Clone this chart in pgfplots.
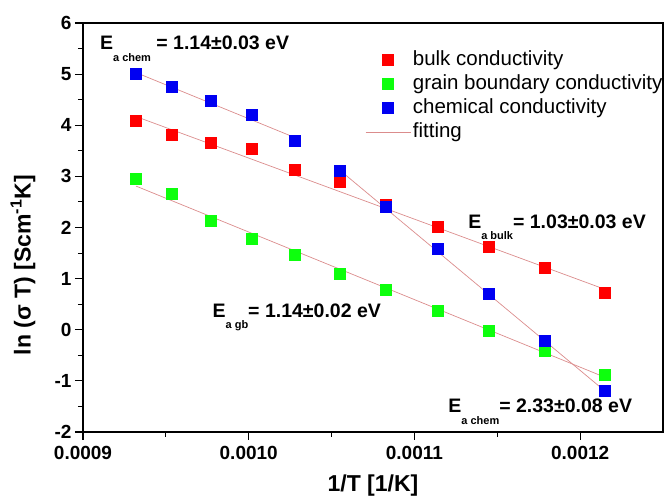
\documentclass[border=0pt]{standalone}
\usepackage{pgfplots}
\pgfplotsset{compat=1.18}
\usepackage{fontspec}
\setmainfont{Liberation Sans}
\definecolor{fitcol}{rgb}{0.86,0.55,0.55}
\definecolor{mred}{rgb}{1,0,0}
\definecolor{mgreen}{rgb}{0.05,1,0.05}
\definecolor{mblue}{rgb}{0,0,0.95}
\newcommand{\Ea}[1]{E\raisebox{-0.6em}{\fontsize{11}{11}\selectfont #1}}
\begin{document}
\begin{tikzpicture}
\begin{axis}[
  name=ax,
  scale only axis,
  width=580pt, height=409pt,
  xmin=0.0009, xmax=0.00125,
  ymin=-2, ymax=6,
  scaled x ticks=false,
  xtick={0.0009,0.0010,0.0011,0.0012},
  xticklabels={0.0009,0.0010,0.0011,0.0012},
  ytick={-2,-1,0,1,2,3,4,5,6},
  yticklabels={-2,-1,0,1,2,3,4,5,6},
  minor x tick num=1,
  minor y tick num=1,
  xtick pos=left, ytick pos=left,
  tick align=outside,
  major tick length=8pt,
  minor tick length=5pt,
  tick style={line width=1.1pt, black},
  axis line style={line width=1.3pt, black},
  tick label style={font=\bfseries\fontsize{19}{19}\selectfont},
  xticklabel shift=3pt,
  xlabel={\bfseries 1/T [1/K]},
  ylabel={\bfseries ln (σ T) [Scm\textsuperscript{-1}K]},
  xlabel style={font=\fontsize{23}{23}\selectfont, yshift=-8pt},
  ylabel style={font=\fontsize{23}{23}\selectfont, at={(axis description cs:-0.076,0.408)}, anchor=south},
  legend style={at={(rel axis cs:0.481,0.936)}, anchor=north west, draw=none, fill=none,
    font=\fontsize{20.5}{20.5}\selectfont, row sep=6pt, column sep=2pt,
    nodes={inner sep=0pt, text height=14pt, text depth=4pt}},
  legend cell align=left,
  legend image code/.code={\draw[mark repeat=2,mark phase=2,#1] plot coordinates {(0pt,0pt) (22.5pt,0pt) (45pt,0pt)};},
  clip=false,
]
% fitting lines
\addplot[fitcol, line width=0.7pt, forget plot] coordinates {(0.000932,5.03) (0.001027,3.77)};
\addplot[fitcol, line width=0.7pt, forget plot] coordinates {(0.001055,3.12) (0.001215,-1.20)};
\addplot[fitcol, line width=0.7pt, forget plot] coordinates {(0.000932,4.17) (0.001215,0.79)};
\addplot[fitcol, line width=0.7pt, forget plot] coordinates {(0.000932,2.81) (0.001215,-0.93)};
% data
\addplot[only marks, mark=square*, mark size=5.5pt, mark options={draw=mred, fill=mred, line width=0pt}] coordinates {
(0.000932,4.09) (0.000954,3.80) (0.000977,3.65) (0.001002,3.54) (0.001028,3.12) (0.001055,2.89)
(0.001083,2.44) (0.001114,2.01) (0.001145,1.61) (0.001179,1.20) (0.001215,0.72)};
\addlegendentry{bulk conductivity}
\addplot[only marks, mark=square*, mark size=5.5pt, mark options={draw=mgreen, fill=mgreen, line width=0pt}] coordinates {
(0.000932,2.95) (0.000954,2.65) (0.000977,2.13) (0.001002,1.77) (0.001028,1.46) (0.001055,1.10)
(0.001083,0.78) (0.001114,0.36) (0.001145,-0.03) (0.001179,-0.42) (0.001215,-0.89)};
\addlegendentry{grain boundary conductivity}
\addplot[only marks, mark=square*, mark size=5.5pt, mark options={draw=mblue, fill=mblue, line width=0pt}] coordinates {
(0.000932,5.00) (0.000954,4.74) (0.000977,4.47) (0.001002,4.21) (0.001028,3.69) (0.001055,3.10)
(0.001083,2.41) (0.001114,1.58) (0.001145,0.69) (0.001179,-0.22) (0.001215,-1.20)};
\addlegendentry{chemical conductivity}
\addlegendimage{fitcol, line width=0.7pt}
\addlegendentry{fitting}
% annotations
\node[anchor=base west, inner sep=0pt, font=\bfseries\fontsize{19.5}{19.5}\selectfont] at (axis cs:0.0009102,5.472) {\Ea{a chem} = 1.14±0.03 eV};
\node[anchor=base west, inner sep=0pt, font=\bfseries\fontsize{19.5}{19.5}\selectfont] at (axis cs:0.0011324,1.990) {\Ea{a bulk}= 1.03±0.03 eV};
\node[anchor=base west, inner sep=0pt, font=\bfseries\fontsize{19.5}{19.5}\selectfont] at (axis cs:0.0009781,0.249) {\Ea{a gb}= 1.14±0.02 eV};
\node[anchor=base west, inner sep=0pt, font=\bfseries\fontsize{19.5}{19.5}\selectfont] at (axis cs:0.0011204,-1.628) {\Ea{a chem}= 2.33±0.08 eV};
\end{axis}
\draw[line width=1.3pt, black] (ax.south west) rectangle ([xshift=-0.8pt,yshift=-0.8pt]ax.north east);
\pgfresetboundingbox
\path[use as bounding box] ([xshift=-83pt,yshift=-65pt]ax.south west) rectangle ([xshift=3pt,yshift=23pt]ax.north east);
\end{tikzpicture}
\end{document}
